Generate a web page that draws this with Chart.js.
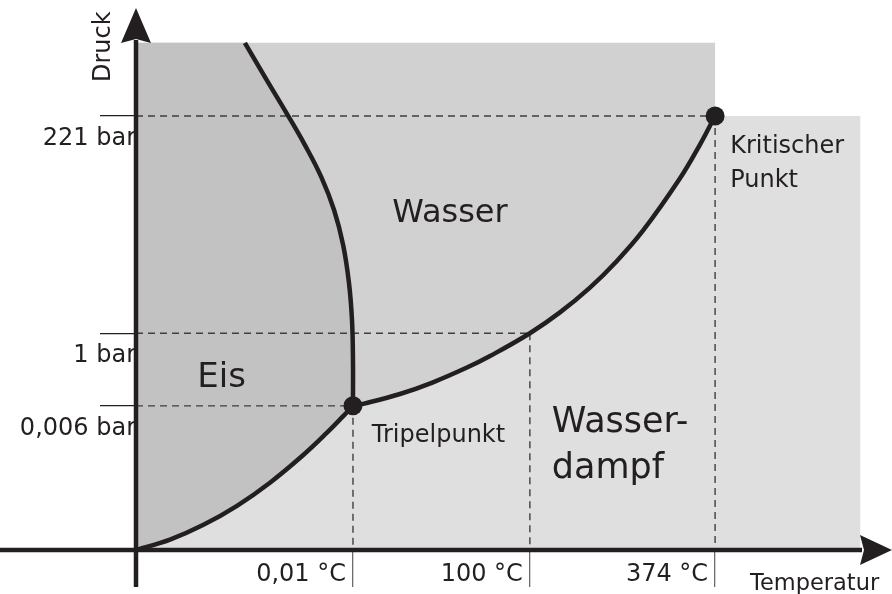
<!DOCTYPE html>
<html lang="de">
<head>
  <meta charset="UTF-8" />
  <title>Phasendiagramm Wasser</title>
  <script src="https://cdn.jsdelivr.net/npm/chart.js"></script>
  <style>
    html, body { margin: 0; padding: 0; background: #fff; }
    #phase { display: block; }
  </style>
</head>
<body>
  <canvas id="phase" width="892" height="594"></canvas>

  <script>
    // schematic diagram, units 0..100 on both axes (not to scale)
    const tempTicks = [28.7, 52.1, 76.6];
    const tempLabels = ['0,01 °C', '100 °C', '374 °C'];
    const pressTicks = [27.2, 40.9, 81.9];
    const pressLabels = ['0,006 bar', '1 bar', '221 bar'];

    const triplePoint = { x: 28.7, y: 27.2 };
    const boilPoint = { x: 52.1, y: 40.9 };
    const criticalPoint = { x: 76.6, y: 81.9 };

    const diagramTop = 95.7;   // upper edge of the ice / water area
    const vaporRight = 95.8;   // right edge of the vapour area

    // Schmelzkurve, top -> triple point
    const meltCurve = [
      { x: 14.4, y: 95.7 }, { x: 17.2, y: 88.9 }, { x: 19.97, y: 82.3 },
      { x: 22.35, y: 76.4 }, { x: 24.5, y: 70.4 }, { x: 26.2, y: 64.15 },
      { x: 27.4, y: 57.55 }, { x: 28.17, y: 50.4 }, { x: 28.57, y: 43.4 },
      { x: 28.7, y: 35.85 }, { x: 28.7, y: 27.2 }
    ];
    // Sublimationskurve, origin -> triple point
    const sublimationCurve = [
      { x: 0, y: 0 }, { x: 4.5, y: 1.96 }, { x: 8.86, y: 4.7 },
      { x: 13.36, y: 8.34 }, { x: 17.72, y: 12.7 }, { x: 22.09, y: 17.87 },
      { x: 25.26, y: 22.13 }, { x: 27.38, y: 25.21 }, { x: 28.7, y: 27.2 }
    ];
    // Dampfdruckkurve, triple point -> critical point
    const vaporCurve = [
      { x: 28.7, y: 27.2 }, { x: 30.03, y: 27.57 }, { x: 34.92, y: 29.43 },
      { x: 39.29, y: 31.64 }, { x: 43.78, y: 34.42 }, { x: 46.83, y: 36.6 },
      { x: 52.1, y: 40.9 }, { x: 56.08, y: 44.83 }, { x: 60.05, y: 49.51 },
      { x: 63.36, y: 54.15 }, { x: 67.06, y: 60.25 }, { x: 71.96, y: 70.13 },
      { x: 74.6, y: 76.49 }, { x: 76.6, y: 81.9 }
    ];

    const ink = '#231f20';
    const font = 'DejaVu Sans';

    // filled areas, built from the curves above
    const vaporArea = [
      { x: 0, y: 0 }, { x: vaporRight, y: 0 },
      { x: vaporRight, y: criticalPoint.y }, { x: 0, y: criticalPoint.y }
    ];
    const waterArea = [
      { x: 0, y: diagramTop }, { x: criticalPoint.x, y: diagramTop },
      ...vaporCurve.slice().reverse(),
      ...sublimationCurve.slice().reverse()
    ];
    const iceArea = [
      { x: 0, y: diagramTop },
      ...meltCurve,
      ...sublimationCurve.slice().reverse()
    ];

    const guides = [
      [{ x: 0, y: criticalPoint.y }, criticalPoint],
      [criticalPoint, { x: criticalPoint.x, y: 0 }],
      [{ x: 0, y: boilPoint.y }, boilPoint],
      [boilPoint, { x: boilPoint.x, y: 0 }],
      [{ x: 0, y: triplePoint.y }, triplePoint],
      [triplePoint, { x: triplePoint.x, y: 0 }]
    ];

    const area = (data, color, order) => ({
      data, order, showLine: true, fill: 'shape', tension: 0,
      backgroundColor: color, borderColor: 'transparent', pointRadius: 0
    });
    const curve = data => ({
      data, order: 2, showLine: true, fill: false, tension: 0.4,
      borderColor: ink, borderWidth: 4.5, pointRadius: 0
    });

    const datasets = [
      area(vaporArea, '#dfdfdf', 10),
      area(waterArea, '#d1d1d1', 9),
      area(iceArea, '#c2c2c2', 8),
      ...guides.map(g => ({
        data: g, order: 7, showLine: true, fill: false,
        borderColor: '#3f3f3f', borderWidth: 1.4, borderDash: [7, 5], pointRadius: 0
      })),
      curve(meltCurve),
      curve(sublimationCurve),
      curve(vaporCurve),
      {
        data: [triplePoint, criticalPoint], order: 1,
        pointRadius: 9.5, pointBackgroundColor: ink, pointBorderWidth: 0
      }
    ];

    // region names, placed in diagram units (x = left edge, y = baseline)
    const regionLabels = [
      { lines: ['Wasser'], x: 33.9, y: 61.9, size: 32 },
      { lines: ['Eis'], x: 8.1, y: 30.75, size: 34 },
      { lines: ['Wasser-', 'dampf'], x: 55.0, y: 22.3, size: 35, step: 46 },
      { lines: ['Tripelpunkt'], x: 31.2, y: 20.4, size: 24 },
      { lines: ['Kritischer', 'Punkt'], x: 78.6, y: 74.9, size: 24, step: 34 }
    ];

    const axesPlugin = {
      id: 'phaseAxes',
      afterDatasetsDraw(chart) {
        const { ctx, scales: { x, y } } = chart;
        const x0 = x.getPixelForValue(0);
        const y0 = y.getPixelForValue(0);
        const w = chart.width;
        ctx.save();
        ctx.strokeStyle = ink;
        ctx.fillStyle = ink;
        ctx.lineWidth = 4.5;
        ctx.beginPath();
        ctx.moveTo(0, y0);
        ctx.lineTo(w - 30, y0);
        ctx.moveTo(x0, chart.height - 7);
        ctx.lineTo(x0, 40);
        ctx.stroke();
        // arrow heads
        ctx.beginPath();
        ctx.moveTo(x0, 8);
        ctx.lineTo(x0 - 15, 43);
        ctx.lineTo(x0, 39);
        ctx.lineTo(x0 + 15, 43);
        ctx.closePath();
        ctx.fill();
        ctx.beginPath();
        ctx.moveTo(w, y0);
        ctx.lineTo(w - 32, y0 - 15);
        ctx.lineTo(w - 28, y0);
        ctx.lineTo(w - 32, y0 + 15);
        ctx.closePath();
        ctx.fill();
        ctx.restore();
      },
      afterDraw(chart) {
        const { ctx, scales: { x, y } } = chart;
        const x0 = x.getPixelForValue(0);
        const y0 = y.getPixelForValue(0);
        ctx.save();
        ctx.fillStyle = ink;
        ctx.textBaseline = 'alphabetic';
        ctx.textAlign = 'left';

        regionLabels.forEach(l => {
          ctx.font = l.size + 'px "' + font + '"';
          const px = x.getPixelForValue(l.x);
          const py = y.getPixelForValue(l.y);
          l.lines.forEach((t, i) => ctx.fillText(t, px, py + i * (l.step || 0)));
        });

        // axis titles
        ctx.font = '22.5px "' + font + '"';
        ctx.fillText('Temperatur', chart.width - 142, y0 + 40);

        ctx.font = '24px "' + font + '"';
        ctx.translate(x0 - 26, 82);
        ctx.rotate(-Math.PI / 2);
        ctx.fillText('Druck', 0, 0);
        ctx.restore();
      }
    };

    new Chart(document.getElementById('phase'), {
      type: 'scatter',
      data: { datasets },
      plugins: [axesPlugin],
      options: {
        responsive: false,
        animation: false,
        events: [],
        layout: { autoPadding: false, padding: { top: 20, right: 0, bottom: 0, left: 0 } },
        plugins: { legend: { display: false }, tooltip: { enabled: false } },
        scales: {
          x: {
            type: 'linear', min: 0, max: 100,
            afterFit: s => { s.height = 44; },
            afterBuildTicks: s => { s.ticks = tempTicks.map(v => ({ value: v })); },
            ticks: {
              callback: (v, i) => tempLabels[i],
              align: 'end', labelOffset: -7, padding: -27,
              autoSkip: false, maxRotation: 0,
              color: ink, font: { family: font, size: 24 }
            },
            grid: { drawOnChartArea: false, tickLength: 37, color: '#6b6b6b', lineWidth: 1.3 },
            border: { display: false }
          },
          y: {
            type: 'linear', min: 0, max: 100,
            afterFit: s => { s.width = 136; },
            afterBuildTicks: s => { s.ticks = pressTicks.map(v => ({ value: v })); },
            ticks: {
              callback: (v, i) => pressLabels[i],
              labelOffset: 23, padding: -36, autoSkip: false,
              color: ink, font: { family: font, size: 24 }
            },
            grid: { drawOnChartArea: false, tickLength: 36, color: ink, lineWidth: 1.3 },
            border: { display: false }
          }
        }
      }
    });
  </script>
</body>
</html>
